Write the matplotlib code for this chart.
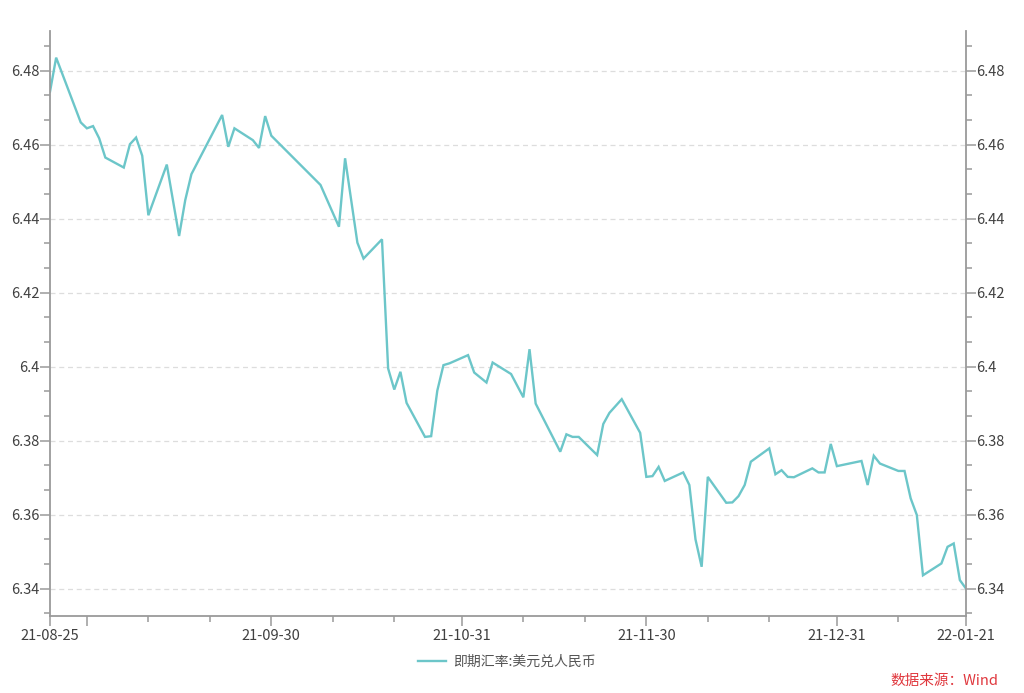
import matplotlib
matplotlib.use("Agg")
import matplotlib.pyplot as plt
import matplotlib.dates as mdates
import matplotlib.ticker as mticker
import pandas as pd
import numpy as np

plt.rcParams['font.family'] = ['Noto Sans CJK SC', 'DejaVu Sans']

dates = [
    "2021-08-25", "2021-08-26", "2021-08-30", "2021-08-31", "2021-09-01", "2021-09-02",
    "2021-09-03", "2021-09-06", "2021-09-07", "2021-09-08", "2021-09-09", "2021-09-10",
    "2021-09-13", "2021-09-15", "2021-09-16", "2021-09-17", "2021-09-22", "2021-09-23",
    "2021-09-24", "2021-09-27", "2021-09-28", "2021-09-29", "2021-09-30", "2021-10-08",
    "2021-10-11", "2021-10-12", "2021-10-14", "2021-10-15", "2021-10-18", "2021-10-19",
    "2021-10-20", "2021-10-21", "2021-10-22", "2021-10-25", "2021-10-26", "2021-10-27",
    "2021-10-28", "2021-10-29", "2021-11-01", "2021-11-02", "2021-11-04", "2021-11-05",
    "2021-11-08", "2021-11-10", "2021-11-11", "2021-11-12", "2021-11-16", "2021-11-17",
    "2021-11-18", "2021-11-19", "2021-11-22", "2021-11-23", "2021-11-24", "2021-11-26",
    "2021-11-29", "2021-11-30", "2021-12-01", "2021-12-02", "2021-12-03", "2021-12-06",
    "2021-12-07", "2021-12-08", "2021-12-09", "2021-12-10", "2021-12-13", "2021-12-14",
    "2021-12-15", "2021-12-16", "2021-12-17", "2021-12-20", "2021-12-21", "2021-12-22",
    "2021-12-23", "2021-12-24", "2021-12-27", "2021-12-28", "2021-12-29", "2021-12-30",
    "2021-12-31", "2022-01-04", "2022-01-05", "2022-01-06", "2022-01-07", "2022-01-10",
    "2022-01-11", "2022-01-12", "2022-01-13", "2022-01-14", "2022-01-17", "2022-01-18",
    "2022-01-19", "2022-01-20", "2022-01-21",
]
rate = [
    6.4743, 6.4835, 6.4660, 6.4644, 6.4650, 6.4617,
    6.4565, 6.4538, 6.4601, 6.4619, 6.4570, 6.4409,
    6.4546, 6.4353, 6.4450, 6.4520, 6.4680, 6.4594,
    6.4644, 6.4612, 6.4591, 6.4677, 6.4624, 6.4491,
    6.4378, 6.4563, 6.4335, 6.4292, 6.4344, 6.3995,
    6.3938, 6.3986, 6.3902, 6.3810, 6.3812, 6.3935,
    6.4004, 6.4009, 6.4031, 6.3984, 6.3957, 6.4011,
    6.3980, 6.3917, 6.4047, 6.3900, 6.3770, 6.3817,
    6.3810, 6.3810, 6.3761, 6.3845, 6.3875, 6.3912,
    6.3821, 6.3702, 6.3704, 6.3729, 6.3691, 6.3714,
    6.3680, 6.3533, 6.3459, 6.3702, 6.3632, 6.3633,
    6.3650, 6.3680, 6.3743, 6.3779, 6.3709, 6.3720,
    6.3702, 6.3701, 6.3725, 6.3714, 6.3714, 6.3791,
    6.3731, 6.3745, 6.3680, 6.3759, 6.3738, 6.3718,
    6.3718, 6.3644, 6.3599, 6.3436, 6.3468, 6.3513,
    6.3522, 6.3423, 6.3400,
]
series_name = "即期汇率:美元兑人民币"
source_text = "数据来源：Wind"

major_tick_dates = ["2021-08-25", "2021-08-31", "2021-09-30", "2021-10-31",
                    "2021-11-30", "2021-12-31", "2022-01-21"]
major_tick_labels = ["21-08-25", "", "21-09-30", "21-10-31",
                     "21-11-30", "21-12-31", "22-01-21"]
minor_tick_dates = ["2021-09-10", "2021-09-20", "2021-10-10", "2021-10-20",
                    "2021-11-10", "2021-11-20", "2021-12-10", "2021-12-20",
                    "2022-01-10"]
y_ticks = [6.34, 6.36, 6.38, 6.40, 6.42, 6.44, 6.46, 6.48]

line_color = "#6CC6C9"
axis_color = "#9a9a9a"
text_color = "#404040"

x = pd.to_datetime(dates)

fig = plt.figure(figsize=(10.24, 6.93), dpi=100)
ax = fig.add_axes([50/1024, 1 - 616/693, (966-50)/1024, (616-31)/693])

ax.plot(x, rate, color=line_color, lw=1.7, label=series_name, solid_joinstyle='miter')

ax.set_xlim(pd.Timestamp("2021-08-25"), pd.Timestamp("2022-01-21"))
ax.set_ylim(6.3326, 6.4907)

ax.set_xticks(pd.to_datetime(major_tick_dates))
ax.set_xticklabels(major_tick_labels)
ax.set_xticks(pd.to_datetime(minor_tick_dates), minor=True)

ax.set_yticks(y_ticks)
ax.set_yticklabels([("%g" % v) for v in y_ticks])
minor_y = np.arange(6.34 - 0.02/3, 6.4907, 0.02/3)
ax.set_yticks([v for v in minor_y if all(abs(v - t) > 1e-6 for t in y_ticks) and v > 6.3326], minor=True)

ax.grid(axis='y', which='major', color='#dddddd', linestyle=(0, (4, 3)), lw=0.9)
ax.set_axisbelow(True)

for s in ['top']:
    ax.spines[s].set_visible(False)
for s in ['left', 'right', 'bottom']:
    ax.spines[s].set_color(axis_color)
    ax.spines[s].set_linewidth(1.3)

ax.tick_params(axis='y', which='both', left=True, right=True, labelleft=True, labelright=True,
               direction='out', color=axis_color, labelcolor=text_color, labelsize=10.5, pad=0.5)
ax.tick_params(axis='y', which='major', length=7, width=1.1)
ax.tick_params(axis='y', which='minor', length=4.5, width=1.1)
ax.tick_params(axis='x', which='major', length=7, width=1.1, color=axis_color,
               labelcolor=text_color, labelsize=10.5, pad=2)
ax.tick_params(axis='x', which='minor', length=4, width=1.1, color=axis_color)

fig.legend(loc='center', bbox_to_anchor=(0.495, 1 - 662/693), frameon=False,
           fontsize=10, labelcolor='#555555', handlelength=2.0, handletextpad=0.5)

fig.text(998/1024, 1 - 681/693, source_text, ha='right', va='center',
         color='#E0383E', fontsize=10.5)

fig.savefig("out.png", dpi=100)
